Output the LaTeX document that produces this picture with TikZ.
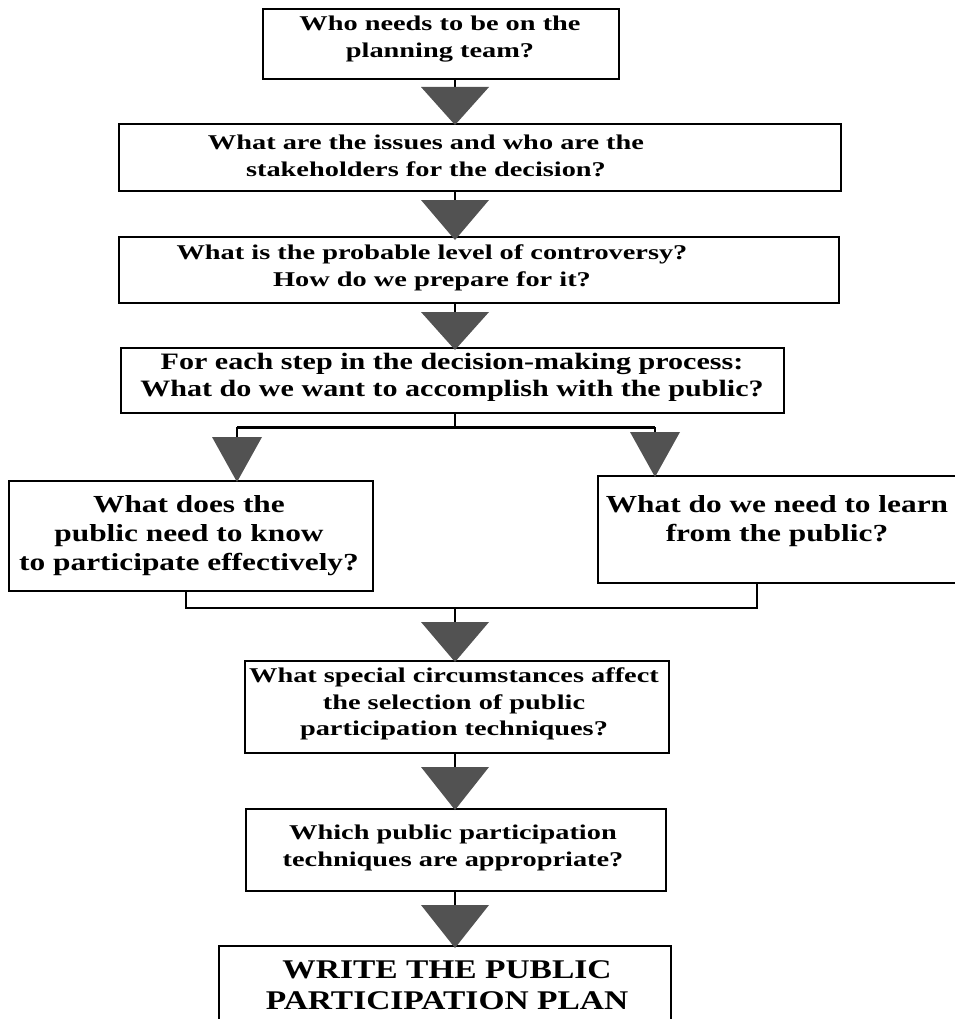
\documentclass[tikz,border=0pt]{standalone}
\usepackage{fontspec}
\setmainfont{Liberation Serif}
% wide bold serif faces used for the questions
\newfontfamily\qwide{Liberation Serif}[FakeStretch=1.35]
\newfontfamily\qmid{Liberation Serif}[FakeStretch=1.28]
\newfontfamily\qcaps{Liberation Serif}[FakeStretch=1.24]
\usetikzlibrary{calc}
\begin{document}
\begin{tikzpicture}[x=1pt,y=-1pt,
  frame/.style={draw,line width=2.4pt,fill=white,inner sep=0pt,anchor=north west},
  qtext/.style={align=center,inner sep=0pt,font=\qwide\bfseries\fontsize{21}{26.5}\selectfont},
  qtextb/.style={align=center,inner sep=0pt,font=\qmid\bfseries\fontsize{23.5}{27}\selectfont},
  qtextc/.style={align=center,inner sep=0pt,font=\qmid\bfseries\fontsize{24.5}{29}\selectfont},
  qtextd/.style={align=center,inner sep=0pt,font=\qcaps\bfseries\fontsize{27}{31}\selectfont},
  flowline/.style={line width=2.3pt},
  bighead/.style={fill=black!68,draw=none},
  smallhead/.style={fill=black!68,draw=none}]
\useasboundingbox (0,0) rectangle (954,1019);

% ---- boxes -------------------------------------------------------------
\node[frame,minimum width=356pt,minimum height=70pt] (b1) at (262,8) {};
\node[qtext] (t1) at (440,39) {Who needs to be on the\\planning team?};

\node[frame,minimum width=722pt,minimum height=67pt] (b2) at (118,123) {};
\node[qtext] (t2) at (426,156) {What are the issues and who are the\\stakeholders for the decision?};

\node[frame,minimum width=720pt,minimum height=66pt] (b3) at (118,236) {};
\node[qtext] (t3) at (432,268) {What is the probable level of controversy?\\How do we prepare for it?};

\node[frame,minimum width=663pt,minimum height=65pt] (b4) at (120,347) {};
\node[qtextb] (t4) at (452,377) {For each step in the decision-making process:\\What do we want to accomplish with the public?};

\node[frame,minimum width=364pt,minimum height=110pt] (bl) at (8,480) {};
\node[qtextc] (tl) at (189,536) {What does the\\public need to know\\to participate effectively?};

\node[frame,minimum width=393pt,minimum height=107pt] (br) at (597,475) {};
\node[qtextc] (tr) at (777,521) {What do we need to learn\\from the public?};

\node[frame,minimum width=424pt,minimum height=92pt] (b5) at (244,660) {};
\node[qtext] (t5) at (454,704) {What special circumstances affect\\the selection of public\\participation techniques?};

\node[frame,minimum width=420pt,minimum height=82pt] (b6) at (245,808) {};
\node[qtext] (t6) at (453,848) {Which public participation\\techniques are appropriate?};

\node[frame,minimum width=452pt,minimum height=95pt] (b7) at (218,945) {};
\node[qtextd] (t7) at (447,985) {WRITE THE PUBLIC\\PARTICIPATION PLAN};

% ---- arrow tips on the spine and the two branches -------------------------
\coordinate (a2) at (455,125);
\coordinate (a3) at (455,240);
\coordinate (a4) at (455,350);
\coordinate (al) at (237,482);
\coordinate (ar) at (655,477);
\coordinate (a5) at (455,662);
\coordinate (a6) at (455,810);
\coordinate (a7) at (455,948);

% stems
\draw[flowline] (b1.south -| a2) -- ++(0,12);
\draw[flowline] (b2.south -| a3) -- ++(0,12);
\draw[flowline] (b3.south -| a4) -- ++(0,12);
\draw[flowline] (b4.south -| a4) -- ++(0,13) coordinate (split);
\draw[flowline] (split -| al) -- (split -| ar);
\draw[flowline] (split -| al) -- ++(0,14);
\draw[flowline] (split -| ar) -- ++(0,10);
\coordinate (join) at (455,608);
\draw[flowline] (bl.south -| 186,0) -- (join -| 186,0) -- (join -| 757,0) -- (br.south -| 757,0);
\draw[flowline] (join) -- ++(0,14);
\draw[flowline] (b5.south -| a6) -- ++(0,14);
\draw[flowline] (b6.south -| a7) -- ++(0,16);

% heads
\fill[bighead] (a2) -- ++(-34,-38) -- ++(68,0) -- cycle;
\fill[bighead] (a3) -- ++(-34,-40) -- ++(68,0) -- cycle;
\fill[bighead] (a4) -- ++(-34,-38) -- ++(68,0) -- cycle;
\fill[smallhead] (al) -- ++(-25,-45) -- ++(50,0) -- cycle;
\fill[smallhead] (ar) -- ++(-25,-45) -- ++(50,0) -- cycle;
\fill[bighead] (a5) -- ++(-34,-40) -- ++(68,0) -- cycle;
\fill[bighead] (a6) -- ++(-34,-43) -- ++(68,0) -- cycle;
\fill[bighead] (a7) -- ++(-34,-43) -- ++(68,0) -- cycle;
\end{tikzpicture}
\end{document}
